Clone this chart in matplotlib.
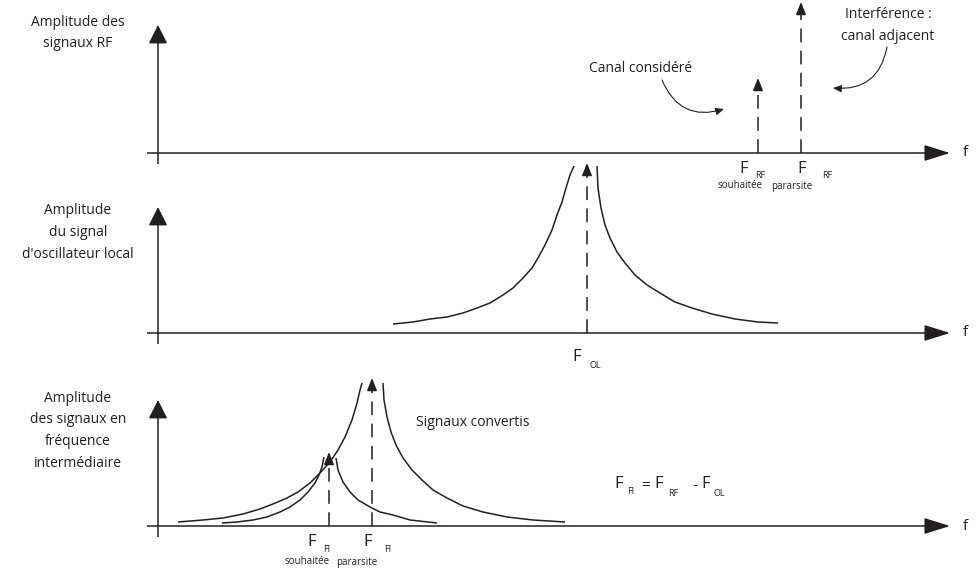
import matplotlib
matplotlib.use("Agg")
import matplotlib.pyplot as plt
from matplotlib.patches import FancyArrowPatch

# --- Data (frequency offset from the amplitude axis, amplitude above the f axis) ---
# Panel 1: RF signals
RF_FREQS = [600, 643]            # wanted channel, adjacent (parasite) channel
RF_AMPS = [75, 151]
RF_NAMES = ["souhaitée", "pararsite"]

# Panel 2: local oscillator
OL_FREQ = 429
OL_AMP = 170
OL_LEFT_F = [235, 255, 272, 289, 305, 319, 332, 345, 355, 365, 374, 380, 387, 394, 399, 404, 408, 412, 416]
OL_LEFT_A = [9, 11, 14, 16, 20, 25, 30, 38, 45, 55, 65, 75, 88, 103, 118, 131, 145, 158, 167]
OL_RIGHT_F = [439, 440, 443, 447, 452, 459, 467, 477, 489, 502, 517, 534, 554, 577, 600, 620]
OL_RIGHT_A = [167, 145, 125, 108, 95, 81, 70, 58, 48, 40, 31, 25, 19, 14, 11, 10]

# Panel 3: IF signals
FI_FREQS = [171, 214]
FI_AMPS = [74, 148]
FI_BIG_LEFT_F = [20, 45, 65, 85, 102, 115, 129, 140, 152, 162, 172, 180, 187, 194, 199, 202, 204]
FI_BIG_LEFT_A = [4, 6, 8, 12, 17, 22, 28, 34, 43, 53, 64, 76, 89, 106, 123, 136, 143]
FI_BIG_RIGHT_F = [225, 226, 229, 233, 238, 245, 254, 264, 275, 289, 305, 325, 349, 375, 407]
FI_BIG_RIGHT_A = [143, 126, 109, 94, 81, 68, 56, 46, 36, 28, 20, 14, 9, 6, 4]
FI_SMALL_LEFT_F = [64, 79, 95, 109, 122, 132, 142, 150, 157, 161, 164, 166]
FI_SMALL_LEFT_A = [3, 4, 6, 9, 14, 19, 26, 34, 43, 51, 59, 69]
FI_SMALL_RIGHT_F = [178, 180, 185, 192, 200, 212, 222, 235, 252, 279]
FI_SMALL_RIGHT_A = [68, 56, 44, 34, 26, 19, 14, 11, 6, 3]

PANEL_LABELS = [
    ["Amplitude des", "signaux RF"],
    ["Amplitude", "du signal", "d'oscillateur local"],
    ["Amplitude", "des signaux en", "fréquence", "intermédiaire"],
]

# --- Layout ---
W, H = 976, 572
BASELINES = [153, 333, 526]      # pixel row of each f axis
Y0 = 158                         # pixel column of the amplitude axes
INK = "#231f20"
LW = 1.1

plt.rcParams["font.family"] = ["Open Sans", "DejaVu Sans"]
plt.rcParams["text.color"] = INK

fig = plt.figure(figsize=(W / 100, H / 100), dpi=100)
axes = []
for b in BASELINES:
    ax = fig.add_axes([0, 0, 1, 1])
    ax.set_xlim(-Y0, W - Y0)
    ax.set_ylim(b - H, b)
    ax.axis("off")
    ax.patch.set_alpha(0)
    axes.append(ax)


def head(ax, x, y, dx, dy, length, width, scale=10):
    ax.annotate("", xy=(x, y), xytext=(x - dx, y - dy),
                arrowprops=dict(arrowstyle=f"-|>,head_length={length},head_width={width}",
                                mutation_scale=scale, color=INK, lw=LW,
                                shrinkA=0, shrinkB=0))


def frame(ax, top):
    ax.plot([0, 0], [-11, top - 12], color=INK, lw=LW, solid_capstyle="butt")
    head(ax, 0, top, 0, 12, 1.15, 0.58)
    ax.plot([-11, 775], [0, 0], color=INK, lw=LW, solid_capstyle="butt")
    head(ax, 792, 0, 17, 0, 1.6, 0.5)
    ax.text(805, 0, "f", fontsize=11, ha="left", va="center")


def curve(ax, f, a):
    ax.plot(f, a, color=INK, lw=LW, solid_joinstyle="round", solid_capstyle="butt")


def dashed_arrow(ax, f, a):
    ax.plot([f, f], [0, a - 6], color=INK, lw=LW, linestyle=(0, (9, 5.5)))
    head(ax, f, a, 0, 8, 0.75, 0.3)


def left_label(ax, lines, top_px, baseline):
    for i, line in enumerate(lines):
        ax.text(78 - Y0, baseline - (top_px + 21.7 * i), line, fontsize=10,
                ha="center", va="center")


def freq_label(ax, f, sub, desc, baseline, y_f, y_sub, y_desc, f_dx, sub_dx, desc_dx):
    ax.text(f + f_dx, baseline - y_f, "F", fontsize=12, ha="left", va="center")
    ax.text(f + sub_dx, baseline - y_sub, sub, fontsize=6.5, ha="left", va="center")
    if desc:
        ax.text(f + desc_dx, baseline - y_desc, desc, fontsize=7, ha="center", va="center")


# Panel 1
ax1 = axes[0]
b = BASELINES[0]
frame(ax1, 128)
for f, a in zip(RF_FREQS, RF_AMPS):
    dashed_arrow(ax1, f, a)
freq_label(ax1, RF_FREQS[0], "RF", RF_NAMES[0], b, 169, 175, 186, -19, -3, -18)
freq_label(ax1, RF_FREQS[1], "RF", RF_NAMES[1], b, 169, 175, 186, -4, 21, -9)
left_label(ax1, PANEL_LABELS[0], 22, b)
ax1.text(641 - Y0, b - 68, "Canal considéré", fontsize=10, ha="center", va="center")
ax1.text(888 - Y0, b - 14, "Interférence :", fontsize=10, ha="center", va="center")
ax1.text(888 - Y0, b - 36, "canal adjacent", fontsize=10, ha="center", va="center")
ax1.add_patch(FancyArrowPatch((662 - Y0, b - 80), (724 - Y0, b - 109),
                              connectionstyle="arc3,rad=0.45",
                              arrowstyle="-|>,head_length=5,head_width=2.2",
                              color=INK, lw=0.8, shrinkA=0, shrinkB=0))
ax1.add_patch(FancyArrowPatch((887 - Y0, b - 47), (833 - Y0, b - 88),
                              connectionstyle="arc3,rad=-0.45",
                              arrowstyle="-|>,head_length=5,head_width=2.2",
                              color=INK, lw=0.8, shrinkA=0, shrinkB=0))

# Panel 2
ax2 = axes[1]
b = BASELINES[1]
frame(ax2, 126)
curve(ax2, OL_LEFT_F, OL_LEFT_A)
curve(ax2, OL_RIGHT_F, OL_RIGHT_A)
dashed_arrow(ax2, OL_FREQ, OL_AMP)
freq_label(ax2, OL_FREQ, "OL", None, b, 357, 365, 0, -15, 2, 0)
left_label(ax2, PANEL_LABELS[1], 211, b)

# Panel 3
ax3 = axes[2]
b = BASELINES[2]
frame(ax3, 126)
curve(ax3, FI_BIG_LEFT_F, FI_BIG_LEFT_A)
curve(ax3, FI_BIG_RIGHT_F, FI_BIG_RIGHT_A)
curve(ax3, FI_SMALL_LEFT_F, FI_SMALL_LEFT_A)
curve(ax3, FI_SMALL_RIGHT_F, FI_SMALL_RIGHT_A)
for f, a in zip(FI_FREQS, FI_AMPS):
    dashed_arrow(ax3, f, a)
freq_label(ax3, FI_FREQS[0], "FI", RF_NAMES[0], b, 542, 550, 562, -22, -6, -22)
freq_label(ax3, FI_FREQS[1], "FI", RF_NAMES[1], b, 542, 550, 562, -9, 12, -15)
left_label(ax3, PANEL_LABELS[2], 398, b)
ax3.text(473 - Y0, b - 422, "Signaux convertis", fontsize=10, ha="center", va="center")

# F_FI = F_RF - F_OL
for x, s, size, y in [(614, "F", 12, 484), (627, "FI", 6.5, 492), (641, "=", 11, 485),
                      (654, "F", 12, 484), (668, "RF", 6.5, 494), (692, "-", 11, 485),
                      (701, "F", 12, 484), (713, "OL", 6.5, 494)]:
    ax3.text(x - Y0, b - y, s, fontsize=size, ha="left", va="center")

fig.savefig("out.png", dpi=100)
